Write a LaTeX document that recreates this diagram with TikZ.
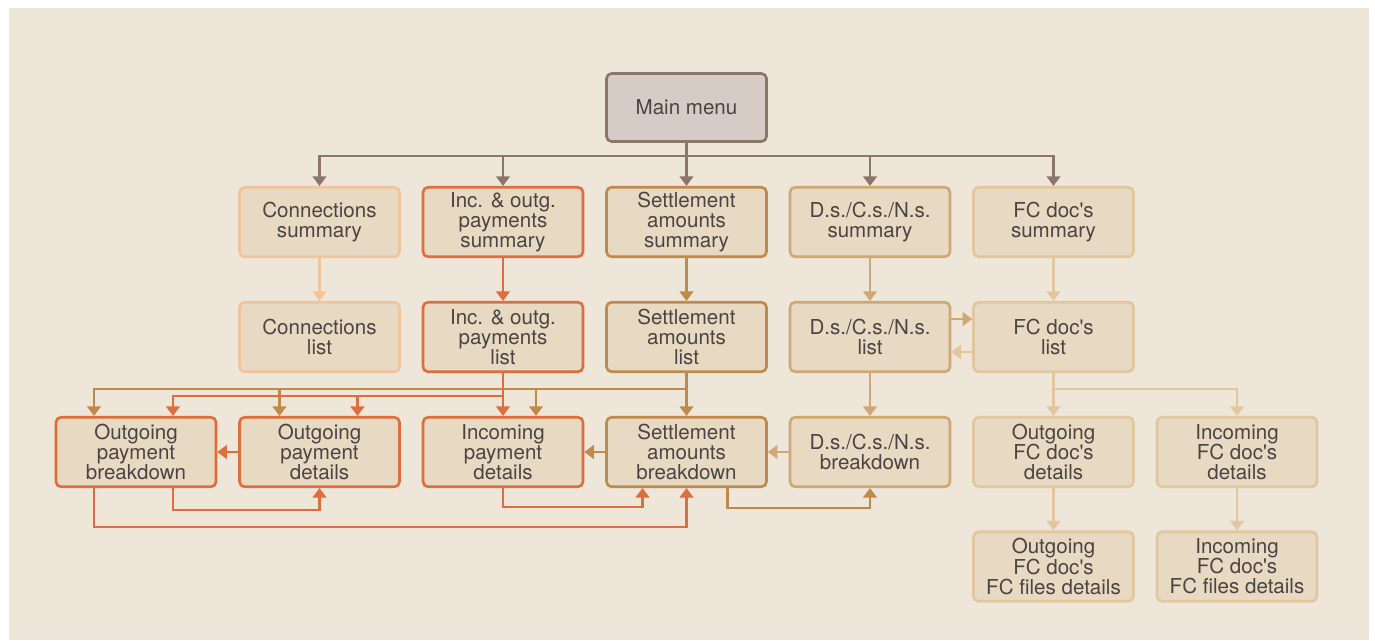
\documentclass[tikz,border=0pt]{standalone}
\usepackage{fontspec}
\setmainfont{TeX Gyre Heros}
\usetikzlibrary{arrows.meta}
\usetikzlibrary{calc}

\definecolor{paper}{HTML}{EFE6DA}
\definecolor{boxfill}{HTML}{E8D9C2}
\definecolor{mainfill}{HTML}{D6CCC5}
\definecolor{maincol}{HTML}{8C766A}
\definecolor{conncol}{HTML}{F0C59C}
\definecolor{inccol}{HTML}{DF6E3E}
\definecolor{setcol}{HTML}{C08A4A}
\definecolor{dscol}{HTML}{D0A873}
\definecolor{fccol}{HTML}{E2C79E}
\definecolor{txt}{HTML}{4A4442}

\tikzset{
	menubox/.style={draw=#1, fill=boxfill, line width=1.5pt, rounded corners=0.1cm,
		minimum width=3.2cm, minimum height=1.39cm, inner sep=0pt, align=center,
		text=txt, font=\fontsize{11.7}{11.4}\selectfont},
	link/.style={draw=#1, line width=1.5pt, -{Triangle[width=0.27cm,length=0.19cm]}}
}

\begin{document}
\begin{tikzpicture}[x=0.02cm, y=-0.02cm]
				\useasboundingbox (0,0) rectangle (1375,640);
				\fill[white] (0,0) rectangle (1375,640);
				\fill[paper] (9,8) rectangle (1369,640);
				% boxes
				\node[menubox=maincol, fill=mainfill, minimum height=1.36cm] (main) at (686.5,107.5) {Main menu};
				\node[menubox=conncol] (connsum) at (319.5,222) {Connections\\summary};
				\node[menubox=inccol] (incsum) at (503,222) {Inc. \& outg.\\payments\\summary};
				\node[menubox=setcol] (setsum) at (686.5,222) {Settlement\\amounts\\summary};
				\node[menubox=dscol] (dssum) at (870,222) {D.s./C.s./N.s.\\summary};
				\node[menubox=fccol] (fcsum) at (1053.5,222) {FC doc\textquotesingle s\\summary};
				\node[menubox=conncol] (connlist) at (319.5,337) {Connections\\list};
				\node[menubox=inccol] (inclist) at (503,337) {Inc. \& outg.\\payments\\list};
				\node[menubox=setcol] (setlist) at (686.5,337) {Settlement\\amounts\\list};
				\node[menubox=dscol] (dslist) at (870,337) {D.s./C.s./N.s.\\list};
				\node[menubox=fccol] (fclist) at (1053.5,337) {FC doc\textquotesingle s\\list};
				\node[menubox=inccol] (outbrk) at (136,452) {Outgoing\\payment\\breakdown};
				\node[menubox=inccol] (outdet) at (319.5,452) {Outgoing\\payment\\details};
				\node[menubox=inccol] (incdet) at (503,452) {Incoming\\payment\\details};
				\node[menubox=setcol] (setbrk) at (686.5,452) {Settlement\\amounts\\breakdown};
				\node[menubox=dscol] (dsbrk) at (870,452) {D.s./C.s./N.s.\\breakdown};
				\node[menubox=fccol] (fcoutdet) at (1053.5,452) {Outgoing\\FC doc\textquotesingle s\\details};
				\node[menubox=fccol] (fcindet) at (1237,452) {Incoming\\FC doc\textquotesingle s\\details};
				\node[menubox=fccol] (fcoutfile) at (1053.5,566.5) {Outgoing\\FC doc\textquotesingle s\\FC files details};
				\node[menubox=fccol] (fcinfile) at (1237,566.5) {Incoming\\FC doc\textquotesingle s\\FC files details};
				% main menu bus
				\coordinate (mbus) at (686.5,156);
				\draw[line width=1.5pt, maincol] (main.south) -- (mbus);
				\foreach \n in {connsum,incsum,setsum,dssum,fcsum} {
					\draw[link=maincol] (mbus) -| (\n.north);
				}
				\foreach \a/\b/\c in {connsum/connlist/conncol, incsum/inclist/inccol,
					setsum/setlist/setcol, dssum/dslist/dscol, fcsum/fclist/fccol,
					dslist/dsbrk/dscol, fclist/fcoutdet/fccol, fcoutdet/fcoutfile/fccol,
					fcindet/fcinfile/fccol, setlist/setbrk/setcol} {
					\draw[link=\c] (\a) -- (\b);
				}
				\draw[link=dscol] ($(dslist.east)+(0,-18)$) -- ($(fclist.west)+(0,-18)$);
				\draw[link=fccol] ($(fclist.west)+(0,15)$) -- ($(dslist.east)+(0,15)$);
				\draw[link=fccol] (fclist.south) -- ++(0,16) -| (fcindet.north);
				% settlement bus
				\coordinate (sbus) at (686.5,389);
				\draw[link=setcol] (sbus) -| ($(outbrk.north)+(-42,0)$);
				\coordinate (sb1) at ($(outdet.north)+(-40,0)$);
				\coordinate (sb2) at ($(incdet.north)+(33,0)$);
				\draw[link=setcol] (sb1 |- sbus) -- (sb1);
				\draw[link=setcol] (sb2 |- sbus) -- (sb2);
				% payments bus
				\coordinate (obus) at (503,396);
				\draw[link=inccol] (inclist) -- (incdet);
				\draw[link=inccol] (obus) -| ($(outbrk.north)+(37,0)$);
				\coordinate (ob1) at ($(outdet.north)+(38,0)$);
				\draw[link=inccol] (ob1 |- obus) -- (ob1);
				% row of breakdowns
				\draw[link=inccol] (outdet) -- (outbrk);
				\draw[link=setcol] (setbrk) -- (incdet);
				\draw[link=dscol] (dsbrk) -- (setbrk);
				\draw[link=inccol] ($(outbrk.south)+(37,0)$) -- ++(0,22) -| (outdet.south);
				\draw[link=inccol] ($(outbrk.south)+(-42,0)$) -- ++(0,39) -| (setbrk.south);
				\draw[link=inccol] (incdet.south) -- ++(0,19) -| ($(setbrk.south)+(-44,0)$);
				\draw[link=setcol] ($(setbrk.south)+(41,0)$) -- ++(0,20) -| (dsbrk.south);
			\end{tikzpicture}
\end{document}
